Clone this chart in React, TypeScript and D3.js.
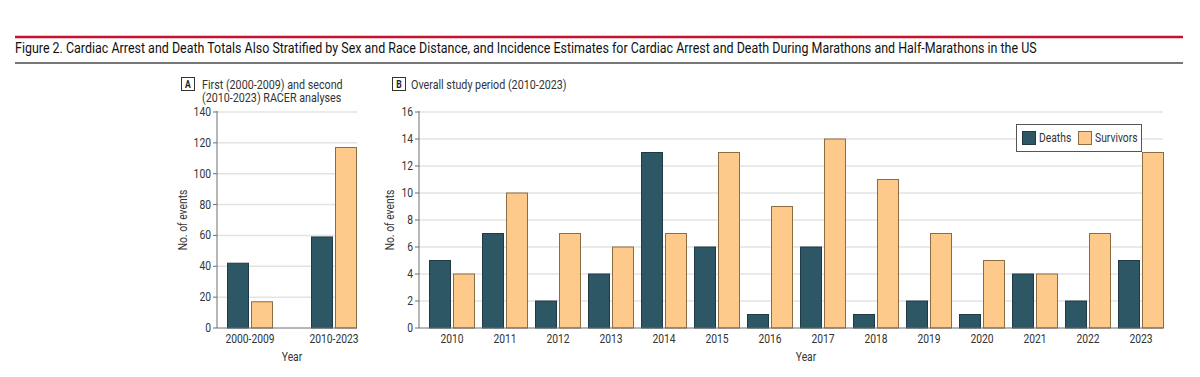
import React from "react";
import * as d3 from "d3";

const periods = ["2000-2009", "2010-2023"];
const periodDeaths = [42, 59];
const periodSurvivors = [17, 117];
const periodTicks = [0, 20, 40, 60, 80, 100, 120, 140];

const years = ["2010", "2011", "2012", "2013", "2014", "2015", "2016", "2017", "2018", "2019", "2020", "2021", "2022", "2023"];
const yearDeaths = [5, 7, 2, 4, 13, 6, 1, 6, 1, 2, 1, 4, 2, 5];
const yearSurvivors = [4, 10, 7, 6, 7, 13, 9, 14, 11, 7, 5, 4, 7, 13];
const yearTicks = [0, 2, 4, 6, 8, 10, 12, 14, 16];

const DEATH = "#2e5766";
const DEATH_STROKE = "#1f3a44";
const SURV = "#fdca8b";
const SURV_STROKE = "#8c6d43";
const GRID = "#e3e3e3";
const AXIS = "#6f6f6f";
const TEXT = "#333";
const FONT = "Roboto, sans-serif";
const SX = 0.86;

type TProps = {
  x: number; y: number; children: React.ReactNode; size?: number; anchor?: "start" | "middle" | "end";
  rotate?: boolean; fill?: string; weight?: string;
};
function T({ x, y, children, size = 12, anchor = "start", rotate = false, fill = TEXT, weight = "normal" }: TProps) {
  const tr = rotate ? `translate(${x},${y}) rotate(-90) scale(${SX},1)` : `translate(${x},${y}) scale(${SX},1)`;
  return (
    <text transform={tr} textAnchor={anchor} fontSize={size} fill={fill} fontFamily={FONT} fontWeight={weight}>
      {children}
    </text>
  );
}

export default function App() {
  const top = 112, bottom = 328;
  // Panel A
  const yA = d3.scaleLinear().domain([0, 140]).range([bottom, top]);
  const xA = d3.scalePoint<string>().domain(periods).range([250, 334]);
  const axA = 217, endA = 357;
  // Panel B
  const yB = d3.scaleLinear().domain([0, 16]).range([bottom, top]);
  const axB = 419, endB = 1163;
  const xB = d3.scalePoint<string>().domain(years).range([452, 1141]);
  const bw = 21, gap = 3;

  return (
    <svg width={1200} height={377} style={{ position: "absolute", left: 0, top: 0, background: "#fff" }}>
      <line x1={15} x2={1183} y1={37} y2={37} stroke="#c8102e" strokeWidth={2.5} />
      <T x={15} y={52.5} size={14.5} fill="#111">
        Figure 2. Cardiac Arrest and Death Totals Also Stratified by Sex and Race Distance, and Incidence Estimates for Cardiac Arrest and Death During Marathons and Half-Marathons in the US
      </T>
      <line x1={15} x2={1183} y1={63} y2={63} stroke="#777" strokeWidth={2} />

      {/* Panel A header */}
      <rect x={181.5} y={77.5} width={13} height={13} fill="#fff" stroke="#333" strokeWidth={1} />
      <T x={188} y={88} size={10} anchor="middle" weight="bold" fill="#222">A</T>
      <T x={202} y={88.5} size={12.5}>First (2000-2009) and second</T>
      <T x={202} y={101.5} size={12.5}>(2010-2023) RACER analyses</T>

      {periodTicks.map((t) => (
        <g key={"ga" + t}>
          {t > 0 && <line x1={axA} x2={endA} y1={yA(t)} y2={yA(t)} stroke={GRID} strokeWidth={1.5} />}
          <line x1={axA - 4} x2={axA} y1={yA(t)} y2={yA(t)} stroke={AXIS} strokeWidth={1} />
          <T x={axA - 6} y={yA(t) + 4} anchor="end">{t}</T>
        </g>
      ))}
      {periods.map((p, i) => (
        <g key={"ba" + p}>
          <rect x={xA(p)! - gap / 2 - bw} y={yA(periodDeaths[i])} width={bw} height={bottom - yA(periodDeaths[i])} fill={DEATH} stroke={DEATH_STROKE} strokeWidth={1} />
          <rect x={xA(p)! + gap / 2} y={yA(periodSurvivors[i])} width={bw} height={bottom - yA(periodSurvivors[i])} fill={SURV} stroke={SURV_STROKE} strokeWidth={1} />
          <T x={xA(p)!} y={343} anchor="middle">{p}</T>
        </g>
      ))}
      <line x1={axA} x2={axA} y1={top - 1} y2={bottom} stroke={AXIS} strokeWidth={1} />
      <line x1={axA} x2={endA} y1={bottom} y2={bottom} stroke={AXIS} strokeWidth={1} />
      <T x={292} y={361} anchor="middle">Year</T>
      <T x={187} y={220} anchor="middle" rotate>No. of events</T>

      {/* Panel B header */}
      <rect x={392.5} y={77.5} width={13} height={13} fill="#fff" stroke="#333" strokeWidth={1} />
      <T x={399} y={88} size={10} anchor="middle" weight="bold" fill="#222">B</T>
      <T x={411} y={88.5} size={12.5}>Overall study period (2010-2023)</T>

      {yearTicks.map((t) => (
        <g key={"gb" + t}>
          {t > 0 && <line x1={axB} x2={endB} y1={yB(t)} y2={yB(t)} stroke={GRID} strokeWidth={1.5} />}
          <line x1={axB - 4} x2={axB} y1={yB(t)} y2={yB(t)} stroke={AXIS} strokeWidth={1} />
          <T x={axB - 6} y={yB(t) + 4} anchor="end">{t}</T>
        </g>
      ))}
      {years.map((yv, i) => {
        const c = xB(yv)!;
        return (
          <g key={"bb" + yv}>
            <rect x={c - gap / 2 - bw} y={yB(yearDeaths[i])} width={bw} height={bottom - yB(yearDeaths[i])} fill={DEATH} stroke={DEATH_STROKE} strokeWidth={1} />
            <rect x={c + gap / 2} y={yB(yearSurvivors[i])} width={bw} height={bottom - yB(yearSurvivors[i])} fill={SURV} stroke={SURV_STROKE} strokeWidth={1} />
            <T x={c} y={343} anchor="middle">{yv}</T>
          </g>
        );
      })}
      <line x1={axB} x2={axB} y1={top - 1} y2={bottom} stroke={AXIS} strokeWidth={1} />
      <line x1={axB} x2={endB} y1={bottom} y2={bottom} stroke={AXIS} strokeWidth={1} />
      <T x={806} y={361} anchor="middle">Year</T>
      <T x={394} y={220} anchor="middle" rotate>No. of events</T>

      {/* Legend */}
      <rect x={1016.5} y={124.5} width={125} height={27} fill="#fff" stroke="#555" strokeWidth={1} />
      <rect x={1022.5} y={131.5} width={13} height={13} fill={DEATH} stroke={DEATH_STROKE} strokeWidth={1} />
      <T x={1039} y={142}>Deaths</T>
      <rect x={1078.5} y={131.5} width={13} height={13} fill={SURV} stroke={SURV_STROKE} strokeWidth={1} />
      <T x={1095} y={142}>Survivors</T>
    </svg>
  );
}
